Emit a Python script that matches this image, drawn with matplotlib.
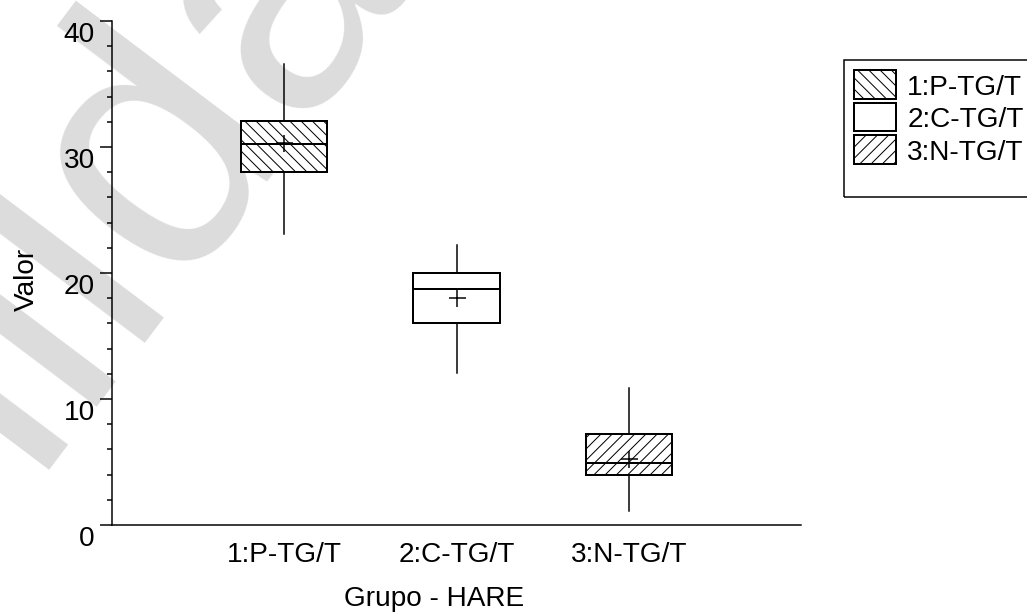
import numpy as np
import matplotlib
matplotlib.use('Agg')
import matplotlib.pyplot as plt
from matplotlib.patches import Patch, Rectangle

# Datos
grupos = ['1:P-TG/T', '2:C-TG/T', '3:N-TG/T']
whislo = [23.1, 12.1, 1.1]
q1 = [28.0, 16.0, 4.0]
medias = [30.3, 18.0, 5.2]
medianas = [30.2, 18.7, 4.9]
q3 = [32.1, 20.0, 7.2]
whishi = [36.6, 22.2, 10.9]
tramas = ['\\\\\\\\', '', '////']

DPI = 135
PX = 72.0 / DPI  # un pixel en puntos
W, H = 1027, 613

plt.rcParams['font.family'] = 'Liberation Sans'
plt.rcParams['hatch.linewidth'] = 1.0 * PX

fig = plt.figure(figsize=(W / DPI, H / DPI), dpi=DPI)

# marca de agua de fondo (gris claro, inclinada)
fig.text(26 / W, 1 - 470 / H, 'illda', fontsize=360 * PX, color='#dcdcdc',
         rotation=53, rotation_mode='anchor', ha='left', va='baseline', zorder=-5)

ax = fig.add_axes([112 / W, 87 / H, 689 / W, 504 / H])
ax.patch.set_alpha(0)

stats = []
for i in range(len(grupos)):
    stats.append({'whislo': whislo[i], 'q1': q1[i], 'med': medianas[i], 'q3': q3[i],
                  'whishi': whishi[i], 'mean': medias[i], 'fliers': []})

bp = ax.bxp(stats, positions=[1, 2, 3], widths=0.5, patch_artist=True,
            showmeans=True, showcaps=False, showfliers=False,
            boxprops=dict(facecolor='white', edgecolor='black', linewidth=2 * PX),
            whiskerprops=dict(color='black', linewidth=1.5 * PX),
            medianprops=dict(color='black', linewidth=2 * PX),
            meanprops=dict(marker='+', markersize=17 * PX, markeredgecolor='black',
                           markeredgewidth=1.5 * PX))
for caja, h in zip(bp['boxes'], tramas):
    caja.set_hatch(h)

ax.set_xlim(0, 4)
ax.set_ylim(0, 40)
ax.spines['top'].set_visible(False)
ax.spines['right'].set_visible(False)
for s in ['left', 'bottom']:
    ax.spines[s].set_linewidth(1.5 * PX)

ax.set_yticks([0, 10, 20, 30, 40])
ax.set_yticks(np.arange(0, 41, 2), minor=True)
ax.tick_params(axis='y', which='major', length=12 * PX, width=1.5 * PX,
               labelsize=28 * PX, pad=5 * PX)
ax.tick_params(axis='y', which='minor', length=5 * PX, width=1.5 * PX)
for lab in ax.get_yticklabels():
    lab.set_verticalalignment('top')

ax.set_xticks([1, 2, 3])
ax.set_xticklabels(grupos)
ax.tick_params(axis='x', length=0, labelsize=28 * PX, pad=16 * PX)

ax.set_xlabel('Grupo - HARE', fontsize=28 * PX)
ax.xaxis.set_label_coords(0.467, -0.12)
ax.set_ylabel('Valor', fontsize=28 * PX)
ax.yaxis.set_label_coords(-0.105, 0.49)

# leyenda con marco dibujado aparte
handles = [Patch(facecolor='white', edgecolor='black', hatch=h, linewidth=2 * PX)
           for h in tramas]
leg = fig.legend(handles, grupos, loc='upper left',
                 bbox_to_anchor=(854 / W, 1 - 71 / H), borderaxespad=0,
                 fontsize=28 * PX, handlelength=1.5, handleheight=1.2,
                 labelspacing=0.1, handletextpad=0.4, borderpad=0,
                 frameon=False)
fig.patches.append(Rectangle((844 / W, 1 - 198 / H), 200 / W, 137 / H,
                             transform=fig.transFigure, facecolor='none',
                             edgecolor='black', linewidth=1.5 * PX))

fig.savefig('out.png', dpi=DPI)
